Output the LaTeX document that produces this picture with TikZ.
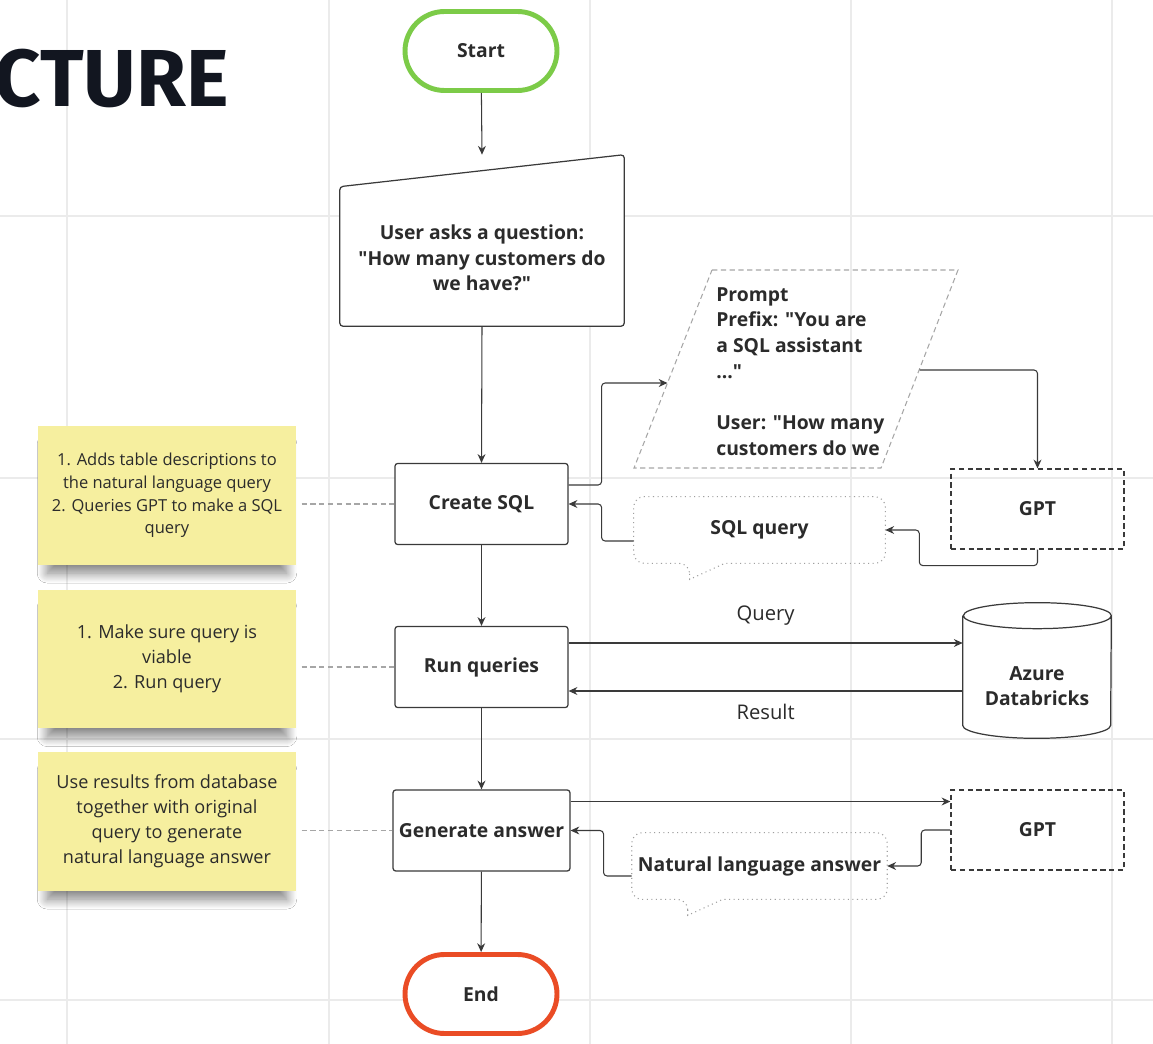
\documentclass[tikz,border=0pt]{standalone}
\usepackage{fontspec}
\setmainfont{Open Sans}[Ligatures=TeXOff]
\newfontfamily\titlefont{Fira Sans}
\usetikzlibrary{shapes.geometric,calc,arrows.meta,shadows.blur}
\definecolor{gridgray}{HTML}{EBEBEB}
\definecolor{ink}{HTML}{2B2B2B}
\definecolor{edge}{HTML}{3A3A3A}
\definecolor{startgreen}{HTML}{7CCB48}
\definecolor{endred}{HTML}{EA4C25}
\definecolor{sticky}{HTML}{F6EF9F}
\definecolor{titleink}{HTML}{121620}

\begin{document}
\begin{tikzpicture}[x=0.02cm,y=-0.02cm,
        every node/.style={text=ink},
        boldtext/.style={font=\fontsize{11}{14.6}\selectfont\bfseries},
        plainlabel/.style={font=\fontsize{11.5}{14}\selectfont},
        termbox/.style={boldtext, draw, fill=white, line width=2.8pt, rounded corners=0.79cm,
            minimum width=3.04cm, minimum height=1.58cm},
        procbox/.style={boldtext, draw=edge, fill=white, line width=0.7pt, rounded corners=1.5pt,
            minimum width=3.46cm, minimum height=1.62cm},
        gptbox/.style={boldtext, draw=edge, line width=0.7pt, dash pattern=on 3pt off 2pt,
            minimum width=3.46cm, minimum height=1.6cm},
        bubblebox/.style={boldtext, minimum width=5.02cm, minimum height=1.32cm},
        bubbleline/.style={draw=gray!75, line width=0.6pt, dotted},
        stickynote/.style={fill=sticky, minimum width=5.16cm, minimum height=2.78cm, align=center,
            blur shadow={shadow xshift=0pt, shadow yshift=-8pt, shadow scale=0.93,
                shadow opacity=50, shadow blur radius=6pt, shadow blur steps=20}},
        flowarrow/.style={draw=edge, line width=0.6pt, rounded corners=2pt,
            -{Stealth[length=5pt,width=4.5pt]}},
        notelink/.style={draw=gray!70, line width=0.6pt, dash pattern=on 3pt off 2pt, shorten <=3pt}]
    \useasboundingbox (0,0) rectangle (1153,1044);
    \fill[white] (0,0) rectangle (1153,1044);
    \foreach \gx in {67,329,590,851,1112}
        \draw[gridgray, line width=1pt] (\gx,0) -- (\gx,1044);
    \foreach \gy in {216,478,739,1000}
        \draw[gridgray, line width=1pt] (0,\gy) -- (1153,\gy);

    \node[anchor=base east, inner sep=0pt, text=titleink,
        font=\titlefont\bfseries\fontsize{46}{46}\selectfont] (title) at (229,107) {CTURE};

    \node[termbox, draw=startgreen] (start) at (481,51) {Start};
    \node[minimum width=5.68cm, minimum height=3.42cm] (ask) at (482,240.5) {};
    \draw[draw=edge, fill=white, line width=0.7pt, rounded corners=2pt]
        (ask.south west) -- ($(ask.north west)+(0,32)$) -- (ask.north east) -- (ask.south east) -- cycle;
    \node[boldtext, align=center] (asktext) at (482,258)
        {User asks a question:\\"How many customers do\\we have?"};

    \node[procbox] (sql) at (481.5,504) {Create SQL};
    \node[procbox] (runq) at (481.5,667) {Run queries};
    \node[procbox] (gen) at (481.5,830.5) {Generate answer};
    \node[termbox, draw=endred] (end) at (481,994) {End};

    \draw[draw=gray!70, line width=0.6pt, dash pattern=on 3pt off 2pt]
        (712,270) -- (958,270) -- (881,468) -- (634,468) -- cycle;
    \coordinate (promptin) at (667.5,383);
    \coordinate (promptout) at (919.5,370);
    \node[boldtext, anchor=north west, inner sep=0pt, align=left] (prompt) at (716,287)
        {Prompt\\Prefix: "You are\\a SQL assistant\\..."\\[14.6pt]User: "How many\\customers do we};

    \node[gptbox] (gpt1) at (1037.5,509) {GPT};
    \node[gptbox] (gpt2) at (1037.5,830) {GPT};

    \node[bubblebox] (sqlq) at (759.5,530) {SQL query};
    \node[bubblebox] (nla) at (759.5,866) {Natural language answer};
    \foreach \b in {sqlq,nla}
        \draw[bubbleline] ($(\b.south west)+(56,0)$) -- ++(0,16) -- ($(\b.south west)+(91,0)$)
            [rounded corners=6pt] -- (\b.south east) -- (\b.north east) -- (\b.north west)
            -- (\b.south west) -- cycle;

    \node[minimum width=2.96cm, minimum height=2.7cm, inner sep=0pt] (db) at (1037,670.5) {};
    \draw[draw=edge, fill=white, line width=0.7pt]
        ($(db.north west)+(0,13)$) -- ($(db.south west)+(0,-13)$)
        arc[start angle=180, end angle=360, x radius=1.48cm, y radius=0.26cm]
        -- ($(db.north east)+(0,13)$)
        arc[start angle=0, end angle=180, x radius=1.48cm, y radius=0.26cm]
        arc[start angle=180, end angle=360, x radius=1.48cm, y radius=0.26cm];
    \node[boldtext, align=center] (dbtext) at (1037,686) {Azure\\Databricks};

    \node[stickynote, font=\fontsize{9.4}{12.9}\selectfont] (note1) at (167,495.5)
        {1. Adds table descriptions to\\the natural language query\\2. Queries GPT to make a SQL\\query};
    \node[stickynote, font=\fontsize{10.3}{14.2}\selectfont] (note2) at (167,659)
        {1. Make sure query is\\viable\\2. Run query};
    \node[stickynote, font=\fontsize{10.3}{14.2}\selectfont] (note3) at (167,821.5)
        {Use results from database\\together with original\\query to generate\\natural language answer};
    \foreach \n/\p in {note1/sql,note2/runq,note3/gen}
        \draw[notelink] (\p.west -| \n.east) -- (\p.west);

    \draw[flowarrow] (start) -- (ask.north);
    \draw[flowarrow] (ask.south) -- (sql.north);
    \draw[flowarrow] (sql) -- (runq);
    \draw[flowarrow] (runq) -- (gen);
    \draw[flowarrow] (gen) -- (end);

    \draw[flowarrow] ($(sql.east)+(0,-19)$) -- ++(33,0) |- (promptin);
    \draw[flowarrow] (promptout) -| (gpt1.north);
    \draw[flowarrow] (gpt1.south) -- ++(0,16) -| ($(sqlq.east)+(34,0)$) -- (sqlq.east);
    \draw[flowarrow] ($(sqlq.west)+(0,11)$) -| ($(sql.east)+(33,0)$) -- (sql.east);

    \coordinate (qa) at ($(runq.east)+(0,-24)$);
    \coordinate (ra) at ($(runq.east)+(0,24)$);
    \draw[flowarrow] (qa) -- (qa -| db.west) node[plainlabel, midway, yshift=0.54cm] (qlabel) {Query};
    \draw[flowarrow] (ra -| db.west) -- (ra) node[plainlabel, midway, yshift=-0.42cm] (rlabel) {Result};

    \coordinate (ga) at ($(gen.east)+(0,-29)$);
    \draw[flowarrow] (ga) -- (ga -| gpt2.west);
    \draw[flowarrow] (gpt2.west) -| ($(nla.east)+(34,0)$) -- (nla.east);
    \draw[flowarrow] ($(nla.west)+(0,10)$) -| ($(gen.east)+(33,0)$) -- (gen.east);
\end{tikzpicture}
\end{document}
